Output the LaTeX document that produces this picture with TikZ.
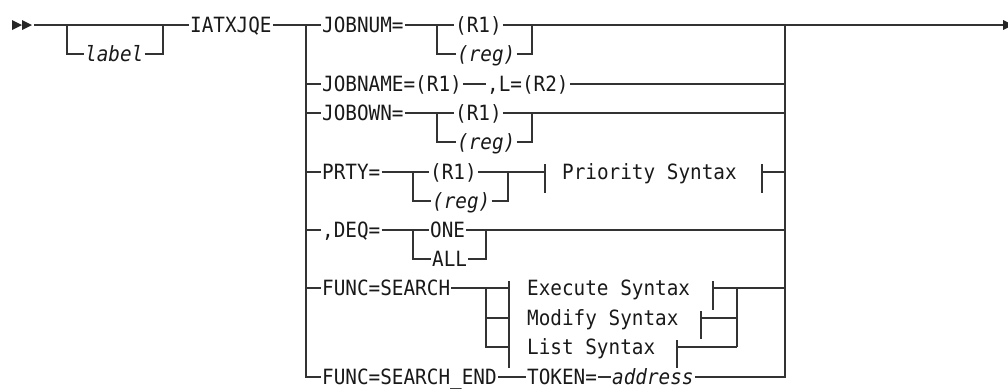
\documentclass[tikz,border=0pt]{standalone}
\usepackage{fontspec}
\newfontfamily\rrfont{DejaVu Sans Mono}[FakeStretch=0.92]
\newcommand\rrsize{\fontsize{21bp}{24bp}\selectfont}

\begin{document}
\begin{tikzpicture}[x=1bp,y=-1bp,
      rail/.style={line width=1.2bp, draw=black!80},
      kw/.style={font={\rrfont\rrsize}, text=black!90, inner xsep=1bp, inner ysep=0pt,
                 text height=20.3bp, text depth=5bp, anchor=west},
      var/.style={kw, font={\rrfont\rrsize\itshape}},
      tip/.style={fill=black!85}]
    \useasboundingbox (0,0) rectangle (1008,389);
    % rows: 25 54 84 113 142 172 201 230 259 288 318 347 377
    \coordinate (lt) at (306,25);
    \coordinate (rt) at (785,25);
    \coordinate (fin) at (1003,25);

    % start and end marks
    \fill[tip] (12,20) -- (22,25) -- (12,30) -- cycle;
    \fill[tip] (22,20) -- (32,25) -- (22,30) -- cycle;
    \fill[tip] (1003,20) -- (1013,25) -- (1003,30) -- cycle;

    % optional label
    \node[var] (label) at (84,54) {label};
    \node[kw] (iatx) at (189,25) {IATXJQE};
    \draw[rail] (34,25) -- (iatx);
    \draw[rail] (67,25) |- (label);
    \draw[rail] (label) -| (163,25);

    % choices
    \node[kw]  (jobnum)  at (321,25)  {JOBNUM=};
    \node[kw]  (r1a)     at (454,25)  {(R1)};
    \node[var] (rega)    at (456,54)  {(reg)};
    \node[kw]  (jobname) at (321,84)  {JOBNAME=(R1)};
    \node[kw]  (lr2)     at (486,84)  {,L=(R2)};
    \node[kw]  (jobown)  at (321,113) {JOBOWN=};
    \node[kw]  (r1b)     at (454,113) {(R1)};
    \node[var] (regb)    at (456,142) {(reg)};
    \node[kw]  (prty)    at (321,172) {PRTY=};
    \node[kw]  (r1c)     at (429,172) {(R1)};
    \node[var] (regc)    at (431,201) {(reg)};
    \node[kw]  (prio)    at (561,172) {Priority Syntax};
    \node[kw]  (deq)     at (321,230) {,DEQ=};
    \node[kw]  (one)     at (429,230) {ONE};
    \node[kw]  (all)     at (431,259) {ALL};
    \node[kw]  (fsearch) at (321,288) {FUNC=SEARCH};
    \node[kw]  (exec)    at (526,288) {Execute Syntax};
    \node[kw]  (modify)  at (526,318) {Modify Syntax};
    \node[kw]  (list)    at (526,347) {List Syntax};
    \node[kw]  (fsend)   at (321,377) {FUNC=SEARCH\_END};
    \node[kw]  (token)   at (526,377) {TOKEN=};
    \node[var] (addr)    at (611,377) {address};

    % left and right trunks
    \draw[rail] (iatx) -- (lt) -- (jobnum);
    \draw[rail] (lt) |- (fsend);
    \foreach \n in {jobname,jobown,prty,deq,fsearch}
      \draw[rail] (lt |- \n.west) -- (\n);
    \draw[rail] (addr) -| (rt);
    \draw[rail] (r1a) -- (fin);
    \foreach \n in {lr2,r1b,one}
      \draw[rail] (\n.east) -- (\n.east -| rt);

    % JOBNUM / JOBOWN
    \draw[rail] (jobnum) -- (r1a);
    \draw[rail] (437,25) |- (rega);
    \draw[rail] (rega) -| (532,25);
    \draw[rail] (jobname) -- (lr2);
    \draw[rail] (jobown) -- (r1b);
    \draw[rail] (437,113) |- (regb);
    \draw[rail] (regb) -| (532,113);

    % PRTY
    \draw[rail] (prty) -- (r1c);
    \draw[rail] (413,172) |- (regc);
    \draw[rail] (regc) -| (508,172);
    \draw[rail] (r1c) -- (545,172);
    \draw[rail] (545,164) -- (545,193);
    \draw[rail] (762,164) -- (762,193) (762,172) -- (rt |- prio.west);

    % DEQ
    \draw[rail] (deq) -- (one);
    \draw[rail] (413,230) |- (all);
    \draw[rail] (all) -| (486,230);

    % FUNC=SEARCH
    \draw[rail] (fsearch) -- (509,288);
    \draw[rail] (486,288) |- (509,347) (486,318) -- (509,318);
    \draw[rail] (509,281) -- (509,368);
    \draw[rail] (713,281) -- (713,310) (713,288) -- (737,288);
    \draw[rail] (701,311) -- (701,339) (701,318) -- (737,318);
    \draw[rail] (677,340) -- (677,368) (677,347) -- (737,347);
    \draw[rail] (737,347) -- (737,288) -- (rt |- exec.west);

    % FUNC=SEARCH_END
    \draw[rail] (fsend) -- (token);
    \draw[rail] (token) -- (addr);
  \end{tikzpicture}
\end{document}
